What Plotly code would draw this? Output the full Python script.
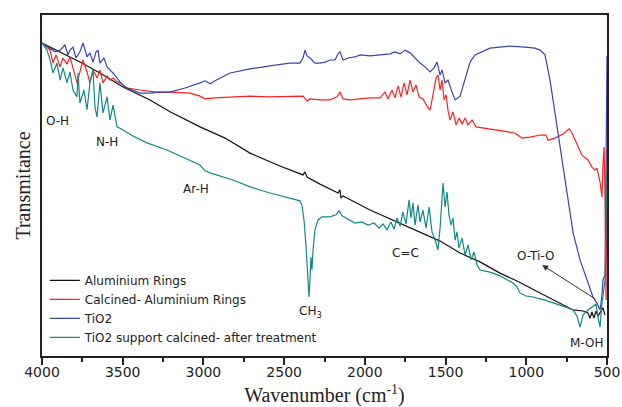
import plotly.graph_objects as go

# ---------------- data (wavenumber cm^-1, transmittance in arbitrary units) ----------------
al_wn = [4000, 3888, 3765, 3641, 3498, 3331, 3207, 3021, 2866, 2711, 2526, 2383, 2371, 2358,
         2278, 2166, 2154, 2148, 2135, 1968, 1801, 1658, 1553, 1534, 1410, 1287, 1163, 1057,
         915, 791, 710, 649, 618, 605, 593, 581, 568, 556, 543, 525, 512]
al_t = [91.8, 89.2, 86.2, 83.0, 78.9, 75.1, 71.6, 67.2, 63.9, 59.5, 55.7, 53.1, 54.0, 52.5,
        50.4, 47.8, 48.7, 46.3, 46.9, 42.8, 39.3, 36.4, 34.0, 33.7, 30.2, 27.6, 24.3, 22.0,
        18.5, 15.5, 13.5, 13.2, 12.6, 11.1, 12.9, 11.1, 13.2, 11.7, 12.9, 14.1, 12.0]

cal_wn = [4000, 3969, 3950, 3932, 3913, 3888, 3870, 3845, 3827, 3808, 3783, 3765, 3746, 3721,
          3703, 3684, 3659, 3641, 3622, 3597, 3579, 3560, 3535, 3517, 3473, 3393, 3288, 3207,
          3083, 3021, 2990, 2928, 2835, 2711, 2588, 2464, 2383, 2358, 2340, 2278, 2216, 2172,
          2154, 2135, 2092, 2030, 1968, 1906, 1875, 1856, 1832, 1813, 1794, 1776, 1757, 1739,
          1720, 1702, 1683, 1664, 1640, 1615, 1596, 1578, 1559, 1547, 1534, 1522, 1509, 1497,
          1485, 1472, 1454, 1435, 1416, 1398, 1379, 1361, 1336, 1311, 1225, 1132, 1070, 1027,
          977, 915, 878, 865, 822, 772, 735, 717, 686, 655, 618, 593, 574, 562, 543, 531, 525,
          518, 512, 506, 500]
cal_t = [91.8, 90.6, 89.7, 85.9, 88.3, 84.8, 87.4, 85.6, 87.7, 84.5, 80.1, 83.3, 86.8, 83.3,
         80.1, 83.9, 81.5, 83.9, 80.1, 82.1, 80.9, 81.5, 80.4, 80.1, 78.6, 78.0, 77.4, 77.4,
         77.1, 76.2, 75.4, 75.7, 76.0, 76.2, 76.0, 76.0, 76.2, 74.8, 75.4, 75.1, 75.1, 76.0,
         77.4, 75.4, 75.1, 75.4, 75.7, 75.7, 77.4, 75.4, 78.0, 75.7, 79.2, 75.9, 80.1, 76.6,
         80.9, 77.4, 79.5, 76.0, 75.4, 73.3, 72.1, 76.6, 81.5, 82.4, 78.0, 80.9, 75.1, 76.6,
         72.1, 69.2, 71.6, 67.8, 69.8, 68.0, 69.8, 67.8, 69.2, 67.2, 66.6, 66.0, 65.4, 63.9,
         64.2, 64.8, 64.8, 63.3, 63.9, 65.1, 66.6, 65.4, 61.9, 58.9, 57.5, 55.4, 54.5, 55.1,
         51.0, 46.6, 56.0, 61.3, 45.8, 16.4, 60.4]

tio2_wn = [4000, 3950, 3919, 3888, 3858, 3839, 3827, 3808, 3789, 3765, 3746, 3721, 3703, 3684,
           3665, 3653, 3641, 3616, 3597, 3579, 3560, 3535, 3517, 3486, 3442, 3393, 3331, 3269,
           3207, 3114, 3021, 2990, 2959, 2928, 2835, 2711, 2588, 2464, 2402, 2383, 2371, 2358,
           2340, 2309, 2278, 2247, 2216, 2185, 2166, 2154, 2135, 2104, 2061, 2030, 1968, 1906,
           1844, 1813, 1782, 1751, 1720, 1689, 1658, 1627, 1596, 1572, 1553, 1534, 1522, 1503,
           1485, 1460, 1441, 1410, 1379, 1348, 1318, 1287, 1256, 1225, 1163, 1101, 1008, 946,
           915, 884, 853, 822, 791, 760, 741, 710, 667, 624, 587, 562, 543, 531, 525, 512, 500]
tio2_t = [91.8, 90.3, 89.2, 89.7, 91.2, 88.3, 89.7, 90.6, 87.4, 89.2, 91.8, 87.7, 88.9, 86.2,
          89.2, 89.7, 85.9, 87.4, 84.8, 83.9, 83.0, 81.5, 80.4, 78.9, 78.0, 77.1, 77.1, 77.4,
          77.4, 78.6, 80.1, 80.7, 79.8, 80.7, 83.0, 84.2, 85.1, 85.9, 85.9, 87.4, 89.7, 88.0,
          87.4, 85.9, 85.9, 86.2, 86.8, 86.8, 88.6, 89.2, 86.8, 87.4, 87.7, 88.3, 88.0, 88.3,
          88.6, 89.2, 88.6, 89.7, 88.9, 87.4, 85.9, 84.8, 83.3, 84.5, 86.2, 82.4, 83.9, 80.1,
          80.9, 77.4, 75.1, 76.2, 80.9, 86.2, 88.3, 88.9, 89.7, 90.3, 90.6, 90.9, 90.6, 90.3,
          89.7, 88.3, 80.9, 71.3, 61.3, 51.6, 44.9, 36.1, 28.2, 22.3, 17.3, 15.5, 13.5, 17.9,
          22.3, 23.8, 88.0]

sup_wn = [4000, 3969, 3950, 3932, 3907, 3888, 3870, 3845, 3827, 3808, 3783, 3777, 3765, 3740,
          3721, 3703, 3684, 3672, 3659, 3641, 3622, 3597, 3579, 3560, 3535, 3498, 3436, 3350,
          3226, 3114, 3021, 2990, 2959, 2817, 2711, 2588, 2464, 2402, 2390, 2377, 2365, 2352,
          2346, 2340, 2334, 2328, 2321, 2309, 2290, 2266, 2216, 2179, 2160, 2141, 2104, 2061,
          2018, 1980, 1943, 1912, 1887, 1863, 1838, 1819, 1801, 1782, 1764, 1745, 1726, 1714,
          1702, 1689, 1671, 1658, 1640, 1621, 1602, 1584, 1565, 1547, 1534, 1522, 1516, 1503,
          1491, 1479, 1466, 1454, 1441, 1429, 1417, 1398, 1379, 1361, 1342, 1324, 1305, 1287,
          1225, 1163, 1082, 1057, 1039, 1002, 958, 884, 834, 760, 710, 686, 667, 649, 618, 587,
          568, 556, 543, 531, 518, 512, 500]
sup_t = [91.8, 89.7, 86.8, 83.0, 85.9, 80.9, 84.5, 80.1, 83.3, 78.0, 76.0, 83.0, 74.2, 78.0,
         72.2, 80.1, 83.9, 73.0, 70.1, 80.1, 71.3, 76.0, 69.2, 73.6, 67.2, 66.3, 64.5, 62.5,
         60.4, 58.1, 56.0, 54.3, 53.7, 51.6, 49.6, 47.8, 46.3, 45.5, 44.3, 39.9, 32.6, 23.8,
         17.3, 22.3, 29.0, 25.2, 31.1, 37.0, 39.9, 40.8, 40.8, 41.4, 42.6, 41.1, 40.2, 39.0,
         39.3, 38.4, 39.0, 37.5, 38.7, 37.0, 39.3, 37.2, 40.5, 38.1, 42.2, 38.7, 45.8, 40.5,
         44.9, 38.4, 44.3, 39.3, 42.8, 37.5, 43.7, 36.4, 34.0, 31.1, 37.5, 45.8, 50.7, 43.7,
         48.1, 41.4, 38.4, 40.5, 34.0, 36.4, 31.7, 34.6, 29.6, 32.6, 28.2, 30.5, 26.7, 25.2,
         24.6, 23.5, 21.4, 20.2, 18.5, 17.6, 17.3, 16.4, 15.5, 14.4, 13.5, 11.7, 8.5, 12.0, 13.5,
         14.4, 15.2, 11.4, 8.5, 15.5, 20.8, 22.3, 54.5]

series_names = ["Aluminium Rings", "Calcined- Aluminium Rings", "TiO2",
                "TiO2 support calcined- after treatment"]
series_colors = ["#111111", "#ff1f1f", "#3a44aa", "#11898a"]

x_ticks = [4000, 3500, 3000, 2500, 2000, 1500, 1000, 500]

# band labels: (text, wavenumber, transmittance)
band_labels = [("O-H", 3907, 68.9), ("N-H", 3597, 62.8), ("Ar-H", 3046, 49.0),
               ("CH<sub>3</sub>", 2334, 12.9), ("C=C", 1751, 30.2), ("O-Ti-O", 946, 29.3),
               ("M-OH", 624, 3.8)]
arrow_head = (902, 26.7)
arrow_tail = (562, 16.4)

# ---------------- figure ----------------
fig = go.Figure()
for xs, ys, name, col in zip([al_wn, cal_wn, tio2_wn, sup_wn], [al_t, cal_t, tio2_t, sup_t],
                             series_names, series_colors):
    fig.add_trace(go.Scatter(x=xs, y=ys, mode="lines", name=name,
                             line=dict(color=col, width=1.2)))

font_sans = "DejaVu Sans"
for txt, xv, yv in band_labels:
    fig.add_annotation(x=xv, y=yv, text=txt, showarrow=False,
                       font=dict(family=font_sans, size=12, color="#222"))

fig.add_annotation(x=arrow_head[0], y=arrow_head[1], ax=arrow_tail[0], ay=arrow_tail[1],
                   axref="x", ayref="y", xref="x", yref="y", text="", showarrow=True,
                   arrowhead=2, arrowsize=1.2, arrowwidth=1, arrowcolor="#333")

fig.update_layout(
    width=622, height=407,
    margin=dict(l=42, r=15, t=15, b=51),
    paper_bgcolor="white", plot_bgcolor="white",
    showlegend=True,
    legend=dict(x=0.005, y=0.012, xanchor="left", yanchor="bottom",
                bgcolor="rgba(0,0,0,0)", borderwidth=0,
                font=dict(family=font_sans, size=12, color="#222"),
                tracegroupgap=0),
    xaxis=dict(range=[4000, 500], tickvals=x_ticks, ticktext=[str(v) for v in x_ticks],
               automargin=False,
               ticks="outside", ticklen=7, tickwidth=1.5, tickcolor="#222",
               ticklabelstandoff=-5,
               minor=dict(dtick=250, ticks="outside", ticklen=4, tickwidth=1.5, tickcolor="#222"),
               showgrid=False, zeroline=False, showline=True, linecolor="#222", linewidth=2,
               mirror=True,
               tickfont=dict(family=font_sans, size=14, color="#222"),
               title=dict(text="Wavenumber (cm<sup>-1</sup>)", standoff=22,
                          font=dict(family="Liberation Serif", size=20, color="#222"))),
    yaxis=dict(range=[0, 100], showticklabels=False, ticks="", showgrid=False, zeroline=False,
               automargin=False,
               showline=True, linecolor="#222", linewidth=2, mirror=True,
               title=dict(text="Transmitance", standoff=4,
                          font=dict(family="Liberation Serif", size=20, color="#222"))),
)

fig.write_html("out.html")
